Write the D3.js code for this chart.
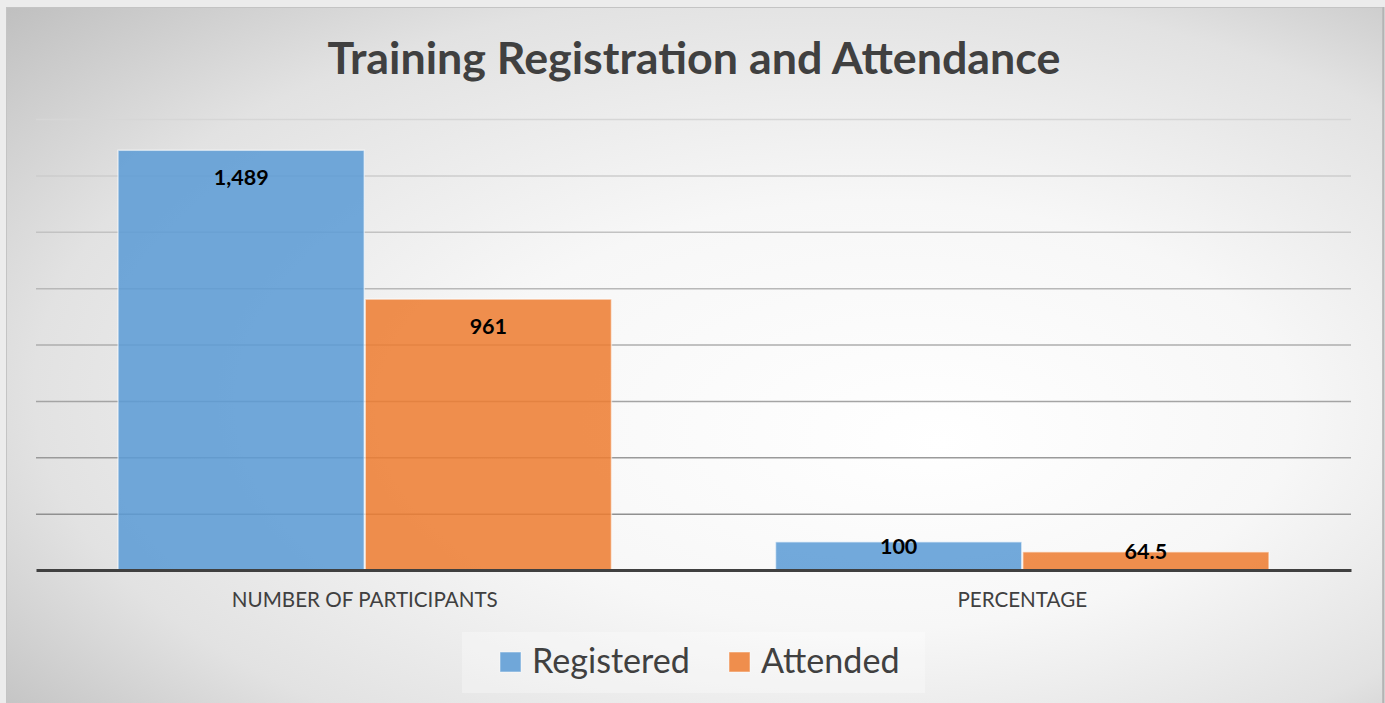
<!DOCTYPE html>
<html>
<head>
<meta charset="utf-8">
<script src="https://cdn.jsdelivr.net/npm/d3@7"></script>
<style>
  html, body { margin: 0; padding: 0; background: #ececec; }
  svg { display: block; }
  text { font-family: Lato, "Open Sans", sans-serif; }
</style>
</head>
<body>
<div id="chart"></div>
<script>
// Set up conventions
let width = 1385;
let height = 703;
let frame = ({left: 6, top: 7, right: 1382, bottom: 710});
let margin = ({top: 119, right: 34, bottom: 133, left: 36});

// Data
let categories = ["NUMBER OF PARTICIPANTS", "PERCENTAGE"];
let seriesNames = ["Registered", "Attended"];
let registered = [1489, 100];
let attended = [961, 64.5];
let labelText = [["1,489", "100"], ["961", "64.5"]];
let yTicks = [0, 200, 400, 600, 800, 1000, 1200, 1400, 1600];
let colors = ["#5b9bd5", "#ed7d31"];

let seriesValues = [registered, attended];
let rows = [];
seriesValues.forEach((vals, s) => {
    vals.forEach((v, c) => {
        rows.push({series: seriesNames[s], s: s, cat: categories[c], value: v, label: labelText[s][c]});
    });
});

// font size that makes one text span the width seen in the picture
function fittedSize(node, target) {
    let size = parseFloat(node.style.fontSize);
    let w = node.getComputedTextLength();
    return (w > 0 ? size * target / w : size).toFixed(2) + "px";
}

let svg = d3.select("#chart")
    .append("svg")
    .attr("width", width)
    .attr("height", height);

let defs = svg.append("defs");

// background: light spot right of centre, grey towards the edges
let bg = defs.append("radialGradient")
    .attr("id", "bg")
    .attr("cx", 0.56).attr("cy", 0.52).attr("r", 0.76)
    .attr("fx", 0.68).attr("fy", 0.62);
bg.append("stop").attr("offset", "0").attr("stop-color", "#ffffff");
bg.append("stop").attr("offset", "0.4").attr("stop-color", "#f7f7f7");
bg.append("stop").attr("offset", "0.75").attr("stop-color", "#e2e2e2");
bg.append("stop").attr("offset", "1").attr("stop-color", "#c0c0c0");

svg.append("rect")
    .attr("x", frame.left + 0.5)
    .attr("y", frame.top + 0.5)
    .attr("width", frame.right - frame.left)
    .attr("height", frame.bottom - frame.top)
    .attr("fill", "url(#bg)")
    .attr("stroke", "#c4c4c4")
    .attr("stroke-width", 1);

svg.append("line")
    .attr("x1", frame.right + 1.5).attr("x2", frame.right + 1.5)
    .attr("y1", frame.top).attr("y2", height)
    .attr("stroke", "#b4b4b4")
    .attr("stroke-width", 2);

// Scales
let xScale = d3.scaleBand()
    .domain(categories)
    .range([margin.left, width - margin.right])
    .paddingInner(0.248)
    .paddingOuter(0.124);

let xSub = d3.scaleBand()
    .domain(seriesNames)
    .range([0, xScale.bandwidth()]);

let yScale = d3.scaleLinear()
    .domain([0, 1600])
    .range([height - margin.bottom, margin.top]);

// gridlines get lighter towards the top
let gridColor = d3.scaleLinear()
    .domain([200, 1600])
    .range(["#909090", "#d6d6d6"])
    .interpolate(d3.interpolateRgb);

let yAxis = d3.axisLeft(yScale)
    .tickValues(yTicks.slice(1))
    .tickSize(-(width - margin.left - margin.right))
    .tickFormat("");

svg.append("g")
    .attr("class", "grid")
    .attr("transform", "translate(" + margin.left + ",0)")
    .call(yAxis)
    .call(g => g.select(".domain").remove())
    .selectAll("line")
    .attr("stroke", d => gridColor(d))
    .attr("stroke-width", 1.5);

// Bars
let bars = svg.append("g").attr("class", "bars");
bars.selectAll("rect")
    .data(rows)
    .enter()
    .append("rect")
    .attr("x", d => xScale(d.cat) + xSub(d.series) + 0.5)
    .attr("y", d => yScale(d.value))
    .attr("width", xSub.bandwidth() - 1)
    .attr("height", d => yScale(0) - yScale(d.value))
    .attr("fill", d => colors[d.s])
    .attr("fill-opacity", 0.86)
    .attr("stroke", "#ffffff")
    .attr("stroke-opacity", 0.55)
    .attr("stroke-width", 1.5);

// Baseline axis
let xAxis = d3.axisBottom(xScale).tickSize(0).tickPadding(22);
let xg = svg.append("g")
    .attr("class", "xaxis")
    .attr("transform", "translate(0," + yScale(0) + ")")
    .call(xAxis);
xg.select(".domain")
    .attr("stroke", "#404040")
    .attr("stroke-width", 3.2);
let catText = xg.selectAll("text")
    .attr("fill", "#404040")
    .style("font-size", "19px")
    .style("font-family", "Lato, sans-serif");
catText.style("font-size", fittedSize(catText.nodes()[0], 266));

// Data labels
let labels = svg.append("g").attr("class", "labels")
    .selectAll("text")
    .data(rows)
    .enter()
    .append("text")
    .attr("x", d => xScale(d.cat) + xSub(d.series) + xSub.bandwidth() / 2)
    .attr("y", d => {
        let top = yScale(d.value);
        let h = yScale(0) - top;
        return top + Math.min(27, h / 2 - 10);
    })
    .attr("text-anchor", "middle")
    .attr("dominant-baseline", "central")
    .style("font-size", "21px")
    .style("font-weight", "bold")
    .attr("fill", "#000000")
    .text(d => d.label);
labels.style("font-size", fittedSize(labels.nodes()[0], 55));

// Title
let title = svg.append("text")
    .attr("x", 694)
    .attr("y", 74)
    .attr("text-anchor", "middle")
    .style("font-size", "44px")
    .style("font-weight", "bold")
    .attr("fill", "#404040")
    .text("Training Registration and Attendance");
title.style("font-size", fittedSize(title.node(), 733));

// Legend
let legend = svg.append("g").attr("class", "legend");
legend.append("rect")
    .attr("x", 462).attr("y", 632)
    .attr("width", 463).attr("height", 61)
    .attr("fill", "#ffffff")
    .attr("fill-opacity", 0.3);

let legendX = [500, 729];
let items = legend.selectAll("g.item")
    .data(seriesNames)
    .enter()
    .append("g")
    .attr("class", "item")
    .attr("transform", (d, i) => "translate(" + legendX[i] + ",652)");
items.append("rect")
    .attr("width", 21).attr("height", 20)
    .attr("fill", (d, i) => colors[i])
    .attr("fill-opacity", 0.86)
    .attr("stroke", "#ffffff")
    .attr("stroke-opacity", 0.5);
let legendText = items.append("text")
    .attr("x", 32)
    .attr("y", 21)
    .style("font-size", "32px")
    .attr("fill", "#404040")
    .text(d => d);
legendText.style("font-size", fittedSize(legendText.nodes()[0], 158));
</script>
</body>
</html>
